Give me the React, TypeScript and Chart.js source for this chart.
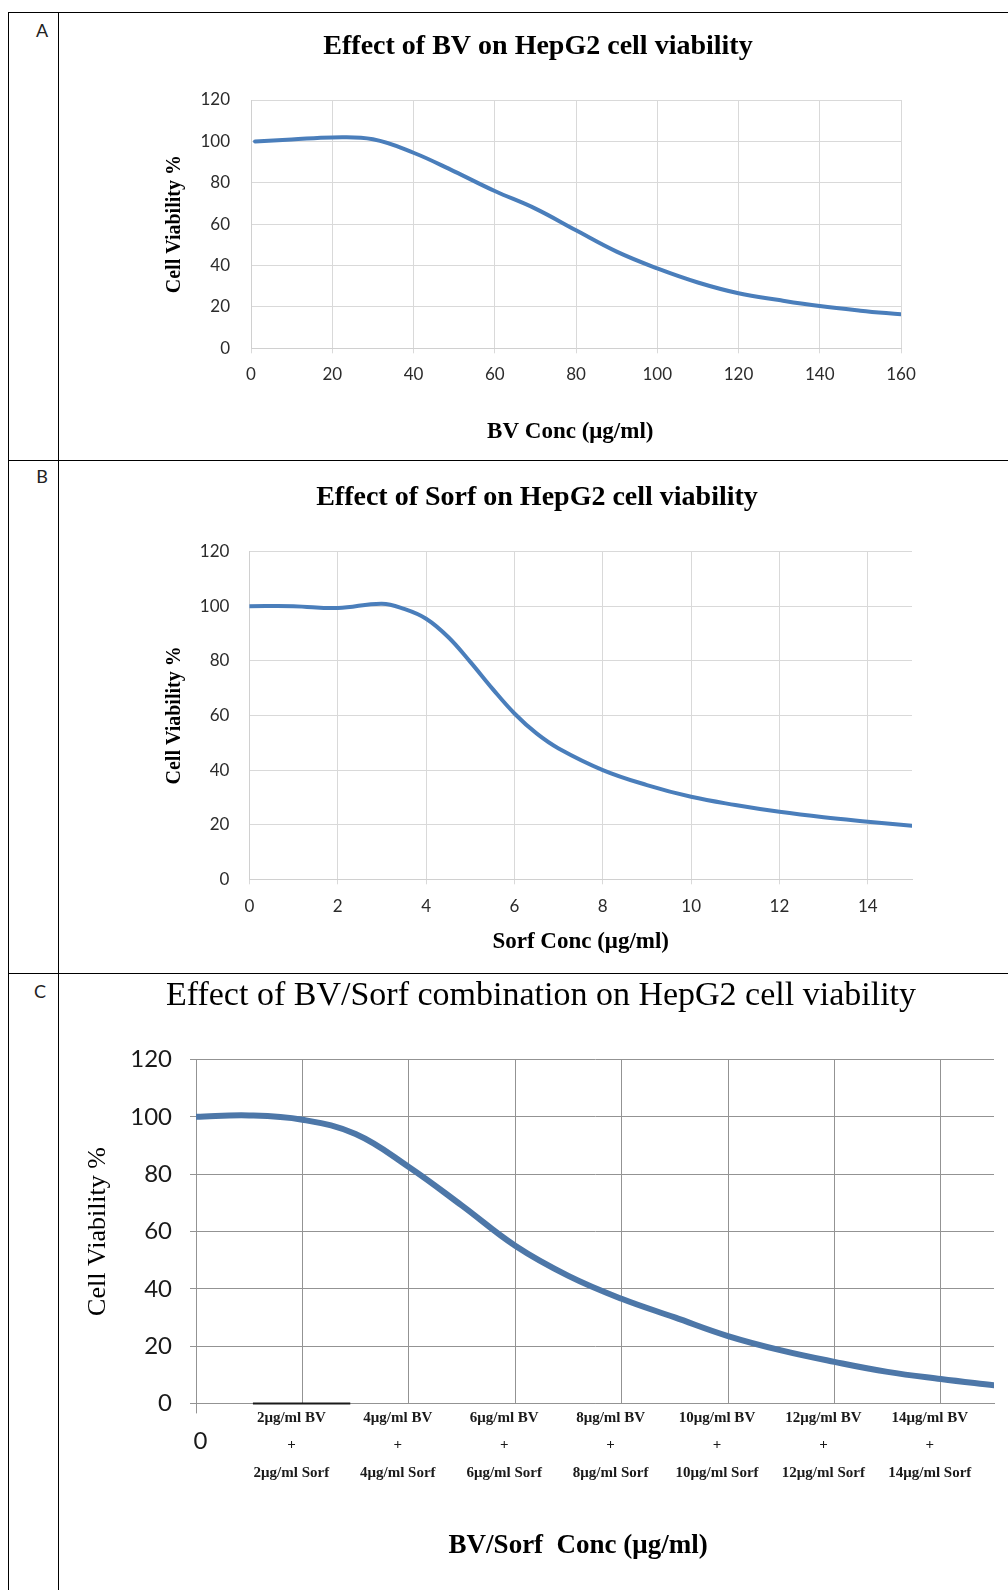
import React, { useEffect, useRef } from "react";
import { Chart, registerables } from "chart.js";

Chart.register(...registerables);
Chart.defaults.font.family = "Lato";

// ---------- Data ----------
const bvConc = [1, 10, 20, 30, 40, 50, 60, 70, 80, 90, 100, 110, 120, 130, 140, 150, 160];
const bvViability = [100, 100.9, 101.9, 101, 94.5, 85.5, 76, 67.5, 57, 46.7, 38.6, 31.8, 26.6, 23.3, 20.4, 18.2, 16.4];

const sorfConc = [0, 1, 2, 3, 3.5, 4, 4.5, 5, 5.5, 6, 6.5, 7, 8, 9, 10, 11, 12, 13, 14, 15];
const sorfViability = [100, 100, 99.3, 100.9, 99, 95.4, 88.7, 79.6, 69.8, 60.7, 53.4, 47.9, 40, 34.5, 30.2, 27.2, 24.7, 22.7, 21.1, 19.6];

const comboConc = [0, 1, 2, 3, 4, 5, 6, 7, 8, 9, 10, 11, 12, 13, 14, 15];
const comboViability = [100, 100.5, 99, 94, 82.5, 69, 55, 44.5, 36.5, 30, 23.5, 18.5, 14.5, 11, 8.5, 6.3];

const comboDoses = [2, 4, 6, 8, 10, 12, 14];
const comboBVLabels = ["2μg/ml BV", "4μg/ml BV", "6μg/ml BV", "8μg/ml BV", "10μg/ml BV", "12μg/ml BV", "14μg/ml BV"];
const comboSorfLabels = ["2μg/ml Sorf", "4μg/ml Sorf", "6μg/ml Sorf", "8μg/ml Sorf", "10μg/ml Sorf", "12μg/ml Sorf", "14μg/ml Sorf"];
const comboZeroLabel = "0";

// dark stroke lying on the x axis of panel C
const axisMarkConc = [1.07, 2.9];
const axisMarkValue = [0, 0];

const viabilityTicks = { min: 0, max: 120, step: 20 };

// ---------- Layout helper ----------
type FontSpec = { family: string; size: number; weight?: string; lineHeight?: number };
const lhOf = (f: FontSpec) => f.size * (f.lineHeight ?? 1.2);

type Spec = {
  box: { x0: number; y0: number; x1: number; y1: number };
  area: { l: number; r: number; t: number; b: number };
  title: { text: string; x: number; y: number; font: FontSpec };
  yTitle: { text: string; x: number; font: FontSpec };
  xTitle: { text: string; y: number; font: FontSpec };
  x: { min: number; max: number; step: number };
  xTick: { len: number; y: number; font: FontSpec };
  yTick: { len: number; gap: number; font: FontSpec };
  gridColor: string;
  borderColor: string;
  tickTextColor: string;
};

function buildOptions(s: Spec) {
  const titleLh = lhOf(s.title.font);
  const titleLeft = 2 * s.title.x - s.area.r;
  const yAxisWidth = s.area.l - titleLeft;
  const titlePadTop = s.title.y - s.box.y0 - titleLh / 2;
  const titlePadBottom = s.area.t - s.box.y0 - titlePadTop - titleLh;
  const yTitlePad = s.yTitle.x - titleLeft - lhOf(s.yTitle.font) / 2;
  const xAxisBottom = s.xTitle.y + lhOf(s.xTitle.font) / 2;
  const xAxisHeight = xAxisBottom - s.area.b;
  const xTickPad = s.xTick.y - s.area.b - s.xTick.len - lhOf(s.xTick.font) / 2;
  const yTickPad = s.yTick.gap - s.yTick.len;
  return {
    responsive: false,
    maintainAspectRatio: false,
    animation: false as const,
    devicePixelRatio: 1,
    layout: {
      autoPadding: false,
      padding: {
        left: titleLeft - s.box.x0,
        right: s.box.x1 - s.area.r,
        top: 0,
        bottom: s.box.y1 - xAxisBottom,
      },
    },
    plugins: {
      legend: { display: false },
      tooltip: { enabled: false },
      title: {
        display: true,
        text: s.title.text,
        color: "#000",
        font: s.title.font,
        padding: { top: titlePadTop, bottom: titlePadBottom },
      },
    },
    scales: {
      x: {
        type: "linear" as const,
        min: s.x.min,
        max: s.x.max,
        afterFit: (sc: any) => {
          sc.height = xAxisHeight;
        },
        ticks: {
          stepSize: s.x.step,
          includeBounds: false,
          autoSkip: false,
          maxRotation: 0,
          minRotation: 0,
          padding: xTickPad,
          font: s.xTick.font,
          color: s.tickTextColor,
        } as any,
        grid: {
          color: s.gridColor,
          lineWidth: 1,
          drawTicks: s.xTick.len > 0,
          tickLength: s.xTick.len,
          tickColor: s.gridColor,
        } as any,
        border: { color: s.borderColor, width: 1 },
        title: {
          display: true,
          text: s.xTitle.text,
          color: "#000",
          font: s.xTitle.font,
          padding: { top: 0, bottom: 0 },
        },
      },
      y: {
        type: "linear" as const,
        min: viabilityTicks.min,
        max: viabilityTicks.max,
        afterFit: (sc: any) => {
          sc.width = yAxisWidth;
        },
        ticks: {
          stepSize: viabilityTicks.step,
          padding: yTickPad,
          font: s.yTick.font,
          color: s.tickTextColor,
        },
        grid: {
          color: s.gridColor,
          lineWidth: 1,
          drawTicks: s.yTick.len > 0,
          tickLength: s.yTick.len,
          tickColor: s.gridColor,
        } as any,
        border: { color: s.borderColor, width: 1 },
        title: {
          display: true,
          text: s.yTitle.text,
          color: "#000",
          font: s.yTitle.font,
          padding: { top: yTitlePad, bottom: 0 },
        },
      },
    },
  };
}

const lineStyle = (color: string, width: number) => ({
  borderColor: color,
  backgroundColor: color,
  borderWidth: width,
  pointRadius: 0,
  pointHoverRadius: 0,
  fill: false,
  tension: 0.4,
  borderCapStyle: "round" as const,
  borderJoinStyle: "round" as const,
});

const toPoints = (xs: number[], ys: number[]) => xs.map((x, i) => ({ x, y: ys[i] }));

// ---------- Panel specs ----------
const serif = "Liberation Serif";
const specA: Spec = {
  box: { x0: 60, y0: 14, x1: 1008, y1: 459 },
  area: { l: 251, r: 901, t: 100, b: 348.3 },
  title: { text: "Effect of BV on HepG2 cell viability", x: 538, y: 47, font: { family: serif, size: 28, weight: "bold" } },
  yTitle: { text: "Cell Viability %", x: 175, font: { family: serif, size: 20, weight: "bold" } },
  xTitle: { text: "BV Conc (μg/ml)  ", y: 432, font: { family: serif, size: 23, weight: "bold" } },
  x: { min: 0, max: 160, step: 20 },
  xTick: { len: 5, y: 375, font: { family: "Lato", size: 17 } },
  yTick: { len: 0, gap: 21, font: { family: "Lato", size: 17 } },
  gridColor: "#d9d9d9",
  borderColor: "#d0d0d0",
  tickTextColor: "#2b2b2b",
};

const specB: Spec = {
  box: { x0: 60, y0: 462, x1: 1008, y1: 972 },
  area: { l: 249.4, r: 912, t: 551.5, b: 879.3 },
  title: { text: "Effect of Sorf on HepG2 cell viability", x: 537, y: 498, font: { family: serif, size: 28, weight: "bold" } },
  yTitle: { text: "Cell Viability %", x: 175, font: { family: serif, size: 20, weight: "bold" } },
  xTitle: { text: "Sorf Conc (μg/ml)", y: 942, font: { family: serif, size: 23, weight: "bold" } },
  x: { min: 0, max: 15, step: 2 },
  xTick: { len: 5, y: 906.7, font: { family: "Lato", size: 17 } },
  yTick: { len: 0, gap: 20, font: { family: "Lato", size: 17 } },
  gridColor: "#d9d9d9",
  borderColor: "#d0d0d0",
  tickTextColor: "#2b2b2b",
};

const comboTickFont: FontSpec = { family: serif, size: 15, weight: "bold", lineHeight: 27.5 / 15 };
const comboZeroFont: FontSpec = { family: "Lato", size: 24, lineHeight: 74 / 24 };

const specC: Spec = {
  box: { x0: 60, y0: 962, x1: 1008, y1: 1590 },
  area: { l: 196, r: 994, t: 1059.5, b: 1403.4 },
  title: { text: "Effect of BV/Sorf combination on HepG2 cell viability", x: 541, y: 996, font: { family: serif, size: 34, weight: "normal" } },
  yTitle: { text: "Cell Viability %", x: 98, font: { family: serif, size: 26, weight: "normal" } },
  xTitle: { text: "BV/Sorf  Conc (μg/ml)     ", y: 1546, font: { family: serif, size: 27, weight: "bold" } },
  x: { min: 0, max: 15, step: 2 },
  xTick: { len: 10, y: 1418, font: comboTickFont },
  yTick: { len: 6, gap: 24, font: { family: "Lato", size: 24 } },
  gridColor: "#939393",
  borderColor: "#939393",
  tickTextColor: "#1a1a1a",
};

function configA() {
  return {
    type: "line" as const,
    data: { datasets: [{ label: "BV", data: toPoints(bvConc, bvViability), ...lineStyle("#4a7ebb", 4) }] },
    options: buildOptions(specA),
  };
}

function configB() {
  return {
    type: "line" as const,
    data: { datasets: [{ label: "Sorf", data: toPoints(sorfConc, sorfViability), ...lineStyle("#4a7ebb", 4) }] },
    options: buildOptions(specB),
  };
}

function configC() {
  const options: any = buildOptions(specC);
  const x = options.scales.x;
  x.ticks.labelOffset = -11;
  x.ticks.font = (ctx: any) => (ctx.tick && ctx.tick.value === 0 ? comboZeroFont : comboTickFont);
  x.ticks.callback = (value: number) => {
    if (value === 0) return "     " + comboZeroLabel;
    const i = comboDoses.indexOf(value);
    return i >= 0 ? [comboBVLabels[i], "+", comboSorfLabels[i]] : "";
  };
  x.grid.tickColor = (ctx: any) => (ctx.tick && ctx.tick.value === 0 ? specC.gridColor : "rgba(0,0,0,0)");
  return {
    type: "line" as const,
    data: {
      datasets: [
        { label: "BV/Sorf", data: toPoints(comboConc, comboViability), ...lineStyle("#4d77a8", 6) },
        {
          label: "axis mark",
          data: toPoints(axisMarkConc, axisMarkValue),
          borderColor: "#1a1a1a",
          borderWidth: 2,
          pointRadius: 0,
          fill: false,
          clip: 4,
        },
      ],
    },
    options,
  };
}

function Panel({ spec, make }: { spec: Spec; make: () => any }) {
  const ref = useRef<HTMLCanvasElement>(null);
  useEffect(() => {
    const chart = new Chart(ref.current as HTMLCanvasElement, make());
    return () => chart.destroy();
  }, []);
  const w = spec.box.x1 - spec.box.x0;
  const h = spec.box.y1 - spec.box.y0;
  return (
    <canvas
      ref={ref}
      width={w}
      height={h}
      style={{ position: "absolute", left: spec.box.x0, top: spec.box.y0, width: w, height: h }}
    />
  );
}

const hLine = (top: number) => (
  <div style={{ position: "absolute", left: 8, top, width: 1000, height: 1, background: "#000" }} />
);
const vLine = (left: number) => (
  <div style={{ position: "absolute", left, top: 12, width: 1, height: 1578, background: "#000" }} />
);
const letter = (text: string, x: number, y: number) => (
  <div
    style={{
      position: "absolute",
      left: x,
      top: y,
      transform: "translate(-50%, -50%)",
      fontFamily: "Lato",
      fontSize: 18,
      lineHeight: 1,
      color: "#222",
    }}
  >
    {text}
  </div>
);

export default function App() {
  return (
    <div
      style={{
        position: "absolute",
        left: 0,
        top: 0,
        width: 1008,
        height: 1590,
        background: "#fff",
        overflow: "hidden",
      }}
    >
      <Panel spec={specA} make={configA} />
      <Panel spec={specB} make={configB} />
      <Panel spec={specC} make={configC} />
      {hLine(12)}
      {hLine(460)}
      {hLine(973)}
      {vLine(8)}
      {vLine(58)}
      {letter("A", 42, 30)}
      {letter("B", 42, 476)}
      {letter("C", 40, 991)}
    </div>
  );
}
